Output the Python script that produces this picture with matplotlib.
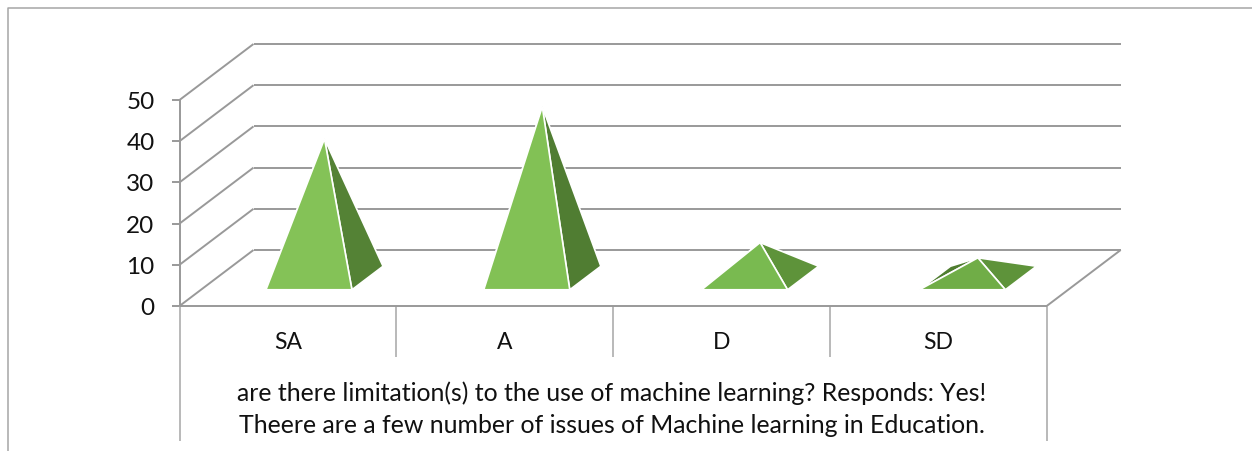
import matplotlib
matplotlib.use("Agg")
import matplotlib.pyplot as plt
from matplotlib.patches import Polygon

categories = ["SA", "A", "D", "SD"]
values = [33.8, 41.6, 8.6, 4.9]
y_ticks = [0, 10, 20, 30, 40, 50]
caption = ["are there limitation(s) to the use of machine learning? Responds: Yes!",
           "Theere are a few number of issues of Machine learning in Education."]
face_colors = ["#84C257", "#82C155", "#79BA50", "#70AD47"]
side_colors = ["#548235", "#507D32", "#5E933A", "#5E933A"]
back_color = "#4F7D30"
grid_color = "#999999"

plt.rcParams["font.family"] = ["Lato", "DejaVu Sans"]

fig = plt.figure(figsize=(12.52, 4.52), dpi=100)
ax = fig.add_axes([0, 0, 1, 1])
ax.set_xlim(0, 1252)
ax.set_ylim(452, 0)
ax.axis("off")

# oblique projection of (x, value, depth) onto the canvas
X0, Y0 = 179.5, 307.0
CAT_W = 216.8
PER_UNIT = 4.12
DX, DY = 74.0, -56.0
BAR_STEP = 217.8
BAR_X0 = 287.5


def proj(x, v=0.0, d=0.0):
    return (X0 + x * CAT_W + d * DX, Y0 - v * PER_UNIT + d * DY)


def line(pts, lw=1.4, color=grid_color, z=1):
    ax.plot([p[0] for p in pts], [p[1] for p in pts], color=color, lw=lw, zorder=z,
            solid_capstyle="butt")


n = len(categories)
for t in y_ticks:
    line([proj(0, t, 1), proj(n, t, 1)])
    line([proj(0, t, 0), proj(0, t, 1)])
    tick = proj(0, t, 0)
    line([(tick[0] - 8, tick[1]), tick])
    ax.text(tick[0] - 25, tick[1] + 1.5, str(t), ha="right", va="center",
            fontsize=17.5, color="#111111")
line([proj(n, 0, 0), proj(n, 0, 1)])
line([proj(0, 0, 0), proj(n, 0, 0)], z=3)
line([proj(0, 0, 0), proj(0, 50, 0)], z=3)

# category separators
for i in range(n + 1):
    top = proj(i, 0, 0)
    bottom = top[1] + (135 if i in (0, n) else 51)
    line([top, (top[0], bottom)], lw=1.1, color="#A6A6A6")

for i, c in enumerate(categories):
    ax.text(proj(i + 0.5)[0], 342.5, c, ha="center", va="center", fontsize=16.5, color="#111111")
for s, y in zip(caption, (393.5, 425.5)):
    ax.text(612, y, s, ha="center", va="center", fontsize=17.9, color="#111111")

# chart-area border: top and left edges only
line([(8, 452), (8, 8.5), (1252, 8.5)], lw=1.1, color="#A6A6A6")

# pyramids
HALF_W = 43.0
D_FRONT, D_BACK = 0.29, 0.71
for i, v in enumerate(values):
    cx = BAR_X0 + BAR_STEP * i


    def corner(side, d):
        px, py = proj(0, 0, d)
        return (cx + side * HALF_W + (px - X0), py)

    fl, fr = corner(-1, D_FRONT), corner(1, D_FRONT)
    bl, br = corner(-1, D_BACK), corner(1, D_BACK)
    mid = proj(0, v, 0.5)
    apex = (cx + (mid[0] - X0), mid[1])
    for pts, col, z in (((fl, bl, apex), back_color, 4),
                        ((fr, br, apex), side_colors[i], 5),
                        ((fl, fr, apex), face_colors[i], 6)):
        ax.add_patch(Polygon(pts, closed=True, facecolor=col, edgecolor="white",
                             lw=1.2, zorder=z, joinstyle="miter"))

fig.savefig("out.png", dpi=100)
